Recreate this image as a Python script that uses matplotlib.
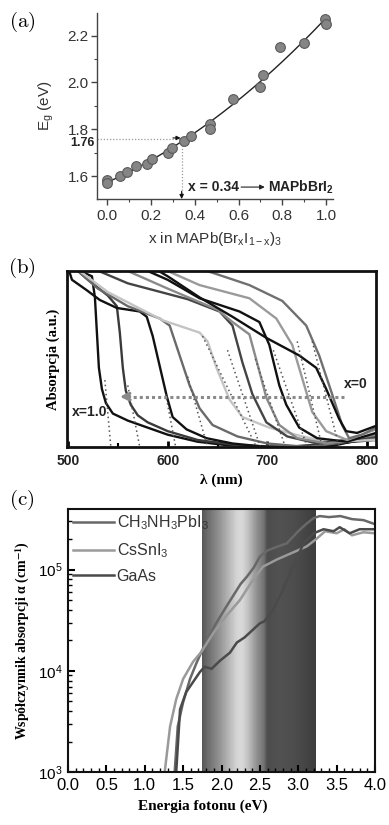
import numpy as np
import matplotlib
matplotlib.use('Agg')
import matplotlib.pyplot as plt
from matplotlib.ticker import MultipleLocator, LogLocator, NullFormatter, FixedLocator

plt.rcParams['font.family'] = ['Liberation Sans', 'DejaVu Sans']
plt.rcParams['mathtext.fontset'] = 'custom'
plt.rcParams['mathtext.rm'] = 'Liberation Sans'
plt.rcParams['mathtext.it'] = 'Liberation Sans:italic'
plt.rcParams['mathtext.bf'] = 'Liberation Sans:bold'

# ---------------- data (a) ----------------
x_br = [0.0, 0.0, 0.058, 0.088, 0.131, 0.18, 0.203, 0.279, 0.294, 0.352,
        0.383, 0.47, 0.47, 0.576, 0.698, 0.713, 0.79, 0.90, 0.995, 1.0]
eg = [1.583, 1.569, 1.601, 1.619, 1.643, 1.650, 1.671, 1.697, 1.718, 1.751,
      1.771, 1.822, 1.800, 1.929, 1.979, 2.030, 2.150, 2.170, 2.270, 2.248]
a_xticks = [0.0, 0.2, 0.4, 0.6, 0.8, 1.0]
a_yticks = [1.6, 1.8, 2.0, 2.2]
x_mark, eg_mark = 0.34, 1.76

# ---------------- data (b) ----------------
b_curves = [
    ([500, 512, 524, 527, 529, 531, 534, 538, 545, 560, 580, 600, 630, 660, 700, 760, 809],
     [1.05, 1.0, 0.97, 0.85, 0.65, 0.45, 0.33, 0.25, 0.19, 0.15, 0.11, 0.07, 0.03, 0.01, 0.0, 0.01, 0.05], '#111111'),
    ([500, 520, 540, 549, 552, 555, 558, 563, 570, 580, 600, 630, 670, 720, 809],
     [1.05, 0.95, 0.86, 0.80, 0.65, 0.45, 0.32, 0.24, 0.18, 0.14, 0.09, 0.04, 0.01, 0.0, 0.04], '#3a3a3a'),
    ([500, 504, 519, 532, 549, 572, 579, 585, 592, 599, 605, 619, 639, 665, 700, 760, 809],
     [1.02, 0.95, 0.89, 0.835, 0.79, 0.77, 0.74, 0.63, 0.46, 0.29, 0.17, 0.10, 0.05, 0.02, 0.0, 0.0, 0.06], '#111111'),
    ([500, 530, 560, 592, 602, 612, 622, 632, 645, 670, 700, 740, 809],
     [1.05, 0.90, 0.80, 0.73, 0.69, 0.52, 0.35, 0.22, 0.125, 0.06, 0.02, 0.0, 0.05], '#6a6a6a'),
    ([500, 540, 595, 632, 640, 649, 662, 675, 702, 735, 760, 809],
     [1.05, 0.88, 0.72, 0.65, 0.60, 0.45, 0.27, 0.17, 0.11, 0.06, 0.03, 0.04], '#c4c4c4'),
    ([510, 560, 620, 652, 665, 675, 685, 699, 720, 750, 809],
     [1.05, 0.93, 0.84, 0.77, 0.69, 0.48, 0.30, 0.14, 0.06, 0.02, 0.06], '#444444'),
    ([540, 600, 650, 665, 682, 692, 699, 712, 730, 760, 809],
     [1.05, 0.90, 0.78, 0.71, 0.64, 0.43, 0.28, 0.125, 0.05, 0.02, 0.07], '#8a8a8a'),
    ([560, 600, 632, 672, 692, 702, 712, 719, 732, 750, 780, 809],
     [1.05, 0.95, 0.845, 0.77, 0.71, 0.58, 0.35, 0.24, 0.11, 0.05, 0.03, 0.08], '#111111'),
    ([580, 632, 682, 709, 725, 735, 745, 759, 780, 809],
     [1.05, 0.92, 0.845, 0.73, 0.58, 0.39, 0.20, 0.09, 0.04, 0.10], '#9a9a9a'),
    ([610, 645, 682, 715, 739, 752, 765, 775, 782, 795, 809],
     [1.05, 0.99, 0.92, 0.83, 0.69, 0.52, 0.30, 0.125, 0.05, 0.07, 0.11], '#707070'),
    ([585, 600, 632, 665, 699, 732, 749, 759, 772, 779, 790, 809],
     [1.02, 0.97, 0.85, 0.74, 0.62, 0.52, 0.45, 0.33, 0.16, 0.09, 0.08, 0.12], '#111111'),
]
# tangent (dotted) extrapolation lines: start (lam, A) -> end (lam, A)
dot_l0 = [537, 560, 598, 620, 635, 660, 688, 706, 730, 745]
dot_a0 = [0.38, 0.35, 0.30, 0.40, 0.63, 0.55, 0.50, 0.55, 0.60, 0.60]
dot_l1 = [543, 572, 608, 640, 689, 693, 718, 740, 755, 772]
dot_a1 = [0.0, 0.0, 0.0, 0.0, 0.0, 0.0, 0.0, 0.0, 0.0, 0.0]
b_xticks = [500, 600, 700, 800]
arrow_from, arrow_to, arrow_a = 777, 552, 0.286

# ---------------- data (c) ----------------
E_mapi = [1.39, 1.43, 1.50, 1.59, 1.67, 1.74, 1.85, 1.93, 2.05, 2.15, 2.25, 2.33, 2.42, 2.5,
          2.6, 2.7, 2.85, 3.0, 3.1, 3.2, 3.28, 3.4, 3.55, 3.7, 3.85, 4.0]
log_mapi = [3.0, 3.45, 3.69, 3.92, 4.07, 4.19, 4.36, 4.47, 4.62, 4.74, 4.86, 4.93, 5.02, 5.13,
            5.19, 5.22, 5.26, 5.38, 5.45, 5.51, 5.53, 5.52, 5.53, 5.50, 5.49, 5.45]
E_cs = [1.26, 1.33, 1.41, 1.50, 1.63, 1.74, 1.89, 2.07, 2.24, 2.41, 2.54, 2.72, 2.93,
        3.11, 3.23, 3.35, 3.5, 3.6, 3.7, 3.85, 4.0]
log_cs = [3.0, 3.45, 3.72, 3.92, 4.09, 4.19, 4.37, 4.55, 4.70, 4.90, 5.03, 5.10, 5.17,
          5.23, 5.30, 5.38, 5.36, 5.40, 5.34, 5.37, 5.36]
E_gaas = [1.41, 1.46, 1.54, 1.63, 1.72, 1.78, 1.87, 1.98, 2.11, 2.20, 2.30, 2.40, 2.50, 2.56,
          2.67, 2.80, 2.93, 3.07, 3.20, 3.33, 3.46, 3.54, 3.67, 3.80, 4.0]
log_gaas = [3.0, 3.62, 3.79, 3.89, 3.99, 4.04, 4.02, 4.10, 4.18, 4.28, 4.33, 4.40, 4.47, 4.49,
            4.60, 4.80, 5.03, 5.26, 5.36, 5.40, 5.38, 5.42, 5.36, 5.40, 5.40]
c_labels = ['CH$_3$NH$_3$PbI$_3$', 'CsSnI$_3$', 'GaAs']
band_E = [1.74, 1.80, 1.95, 2.10, 2.20, 2.27, 2.35, 2.45, 2.55, 2.60, 2.75, 2.95, 3.10, 3.23]
band_gray = [0.33, 0.40, 0.55, 0.72, 0.83, 0.85, 0.75, 0.58, 0.45, 0.30, 0.32, 0.30, 0.27, 0.24]

W, H = 389, 825
fig = plt.figure(figsize=(W / 100, H / 100), dpi=100)


def rect(l, t, r, b):
    return [l / W, 1 - b / H, (r - l) / W, (b - t) / H]


# ================= panel (a) =================
axA = fig.add_axes(rect(97, 13, 333, 199))
axA.set_xlim(-0.047, 1.032)
axA.set_ylim(1.502, 2.297)
for s in ['top', 'right']:
    axA.spines[s].set_visible(False)
for s in ['left', 'bottom']:
    axA.spines[s].set_color('#444444')
    axA.spines[s].set_linewidth(1.0)
axA.xaxis.set_major_locator(FixedLocator(a_xticks))
axA.yaxis.set_major_locator(FixedLocator(a_yticks))
axA.xaxis.set_minor_locator(MultipleLocator(0.1))
axA.yaxis.set_minor_locator(MultipleLocator(0.1))
axA.tick_params(which='major', direction='out', length=4, width=1, color='#444444',
                labelsize=11, labelcolor='#333333')
axA.tick_params(axis='y', which='major', pad=2)
axA.tick_params(which='minor', direction='out', length=2.5, width=0.8, color='#444444')
axA.xaxis.set_major_formatter(matplotlib.ticker.FormatStrFormatter('%.1f'))
axA.yaxis.set_major_formatter(matplotlib.ticker.FormatStrFormatter('%.1f'))
coef = np.polyfit(x_br, eg, 2)
xf = np.linspace(0, 1, 200)
axA.plot(xf, np.polyval(coef, xf), color='#222222', lw=1.0, zorder=2)
axA.plot(x_br, eg, 'o', ms=7, mfc='#858585', mec='#5a5a5a', mew=0.8, zorder=3)
axA.plot([-0.047, x_mark], [eg_mark, eg_mark], ls=(0, (1, 1.5)), color='#999999', lw=0.9)
axA.plot([x_mark, x_mark], [eg_mark, 1.52], ls=(0, (1, 1.5)), color='#999999', lw=0.9)
axA.annotate('', xy=(x_mark, 1.502), xytext=(x_mark, 1.535),
             arrowprops=dict(arrowstyle='-|>', color='#111111', lw=0.8, mutation_scale=6,
                             shrinkA=0, shrinkB=0), annotation_clip=False)
axA.annotate('', xy=(x_mark - 0.005, eg_mark + 0.003), xytext=(x_mark - 0.04, eg_mark + 0.003),
             arrowprops=dict(arrowstyle='-|>', color='#111111', lw=0.8, mutation_scale=6,
                             shrinkA=0, shrinkB=0))
axA.text(-0.012, eg_mark - 0.018, '1.76', transform=axA.get_yaxis_transform(), ha='right',
         va='center', fontsize=9, fontweight='bold', color='#222222')
axA.text(0.369, 1.553, 'x = 0.34', fontsize=10, fontweight='bold', ha='left', va='center',
         color='#222222')
axA.annotate('', xy=(0.72, 1.553), xytext=(0.612, 1.553),
             arrowprops=dict(arrowstyle='-|>', color='#222222', lw=0.8, mutation_scale=7,
                             shrinkA=0, shrinkB=0))
axA.text(0.733, 1.553, r'MAPbBrI$_\mathbf{2}$', fontsize=10, fontweight='bold', ha='left',
         va='center', color='#222222')
axA.set_ylabel('E$_\\mathrm{g}$ (eV)', fontsize=11, color='#333333', labelpad=8)
axA.set_xlabel(r'x in MAPb(Br$_\mathrm{x}$I$_\mathrm{1-x}$)$_3$', fontsize=11, color='#333333',
               labelpad=5)

# ================= panel (b) =================
axB = fig.add_axes(rect(67, 271, 376, 447))
axB.set_xlim(499, 809)
axB.set_ylim(0, 1)
for s in axB.spines.values():
    s.set_linewidth(2.0)
    s.set_color('#111111')
for lam, a, col in b_curves:
    axB.plot(lam, a, color=col, lw=1.7, solid_capstyle='round')
for l0, a0, l1, a1 in zip(dot_l0, dot_a0, dot_l1, dot_a1):
    axB.plot([l0, l1], [a0, a1], ls=(0, (1, 2)), color='#555555', lw=1.1)
axB.plot([arrow_from, arrow_to + 4], [arrow_a, arrow_a], ls=(0, (1, 1)), color='#8a8a8a', lw=2.2)
axB.annotate('', xy=(arrow_to, arrow_a), xytext=(arrow_to + 10, arrow_a),
             arrowprops=dict(arrowstyle='->', color='#8a8a8a', lw=2.2, mutation_scale=12,
                             shrinkA=0, shrinkB=0))
axB.text(789, 0.36, 'x=0', fontsize=10, fontweight='bold', ha='center', va='center', color='#222222')
axB.text(522, 0.20, 'x=1.0', fontsize=10, fontweight='bold', ha='center', va='center', color='#222222')
axB.xaxis.set_major_locator(FixedLocator(b_xticks))
axB.xaxis.set_minor_locator(MultipleLocator(50))
axB.set_yticks([])
axB.tick_params(axis='x', which='major', direction='in', length=4, width=2, labelsize=10, pad=5)
axB.tick_params(axis='x', which='minor', direction='in', length=3, width=1.5)
for t in axB.get_xticklabels():
    t.set_fontweight('bold')
    t.set_color('#222222')
axB.set_xlabel('λ (nm)', fontsize=11, fontweight='bold', family=['Liberation Serif', 'DejaVu Serif'],
               labelpad=4)
axB.set_ylabel('Absorpcja (a.u.)', fontsize=10.5, fontweight='bold',
               family=['Liberation Serif', 'DejaVu Serif'], labelpad=5)

# ================= panel (c) =================
axC = fig.add_axes(rect(68, 509, 375, 772))
axC.set_yscale('log')
ytop = 10 ** 5.6
axC.set_xlim(0, 4.0)
axC.set_ylim(1e3, ytop)
edges = np.linspace(band_E[0], band_E[-1], 200)
cent = 0.5 * (edges[1:] + edges[:-1])
g = np.interp(cent, band_E, band_gray)
axC.pcolormesh(edges, [1e3, ytop], g[None, :], cmap='gray', vmin=0, vmax=1, shading='flat',
               zorder=0, rasterized=True)
axC.plot(E_mapi, 10 ** np.array(log_mapi), color='#686868', lw=1.8, label=c_labels[0])
axC.plot(E_cs, 10 ** np.array(log_cs), color='#9a9a9a', lw=1.8, label=c_labels[1])
axC.plot(E_gaas, 10 ** np.array(log_gaas), color='#4a4a4a', lw=1.8, label=c_labels[2])
for s in axC.spines.values():
    s.set_linewidth(1.5)
    s.set_color('#111111')
axC.xaxis.set_major_locator(MultipleLocator(0.5))
axC.xaxis.set_minor_locator(MultipleLocator(0.1))
axC.xaxis.set_major_formatter(matplotlib.ticker.FormatStrFormatter('%.1f'))
axC.yaxis.set_major_locator(LogLocator(base=10, numticks=10))
axC.yaxis.set_minor_locator(LogLocator(base=10, subs=np.arange(2, 10), numticks=20))
axC.yaxis.set_minor_formatter(NullFormatter())
axC.tick_params(which='major', direction='in', length=5, width=1.5, labelsize=12, pad=4)
axC.tick_params(axis='y', which='major', labelsize=11)
axC.tick_params(which='minor', direction='in', length=3, width=1.0)
leg = axC.legend(loc='upper left', bbox_to_anchor=(0.0, 1.0), frameon=False, fontsize=11.5,
                 handlelength=2.6, handletextpad=0.15, labelspacing=0.55, borderaxespad=0.1,
                 borderpad=0.2)
for t in leg.get_texts():
    t.set_color('#333333')
axC.set_xlabel('Energia fotonu (eV)', fontsize=11, fontweight='bold',
               family=['Liberation Serif', 'DejaVu Serif'])
axC.xaxis.set_label_coords((203 - 68) / 307, -0.105)
axC.set_ylabel(r'Współczynnik absorpcji α (cm$^{\mathbf{-1}}$)', fontsize=10, fontweight='bold',
               family=['Liberation Serif', 'DejaVu Serif'], math_fontfamily='stix', labelpad=4)

# panel letters
for lbl, py in [('(a)', 22), ('(b)', 268), ('(c)', 500)]:
    fig.text(22 / W, 1 - py / H, r'$\mathrm{' + lbl + '}$', math_fontfamily='cm', fontsize=15,
             ha='center', va='center')

fig.savefig('out.png', dpi=100)
